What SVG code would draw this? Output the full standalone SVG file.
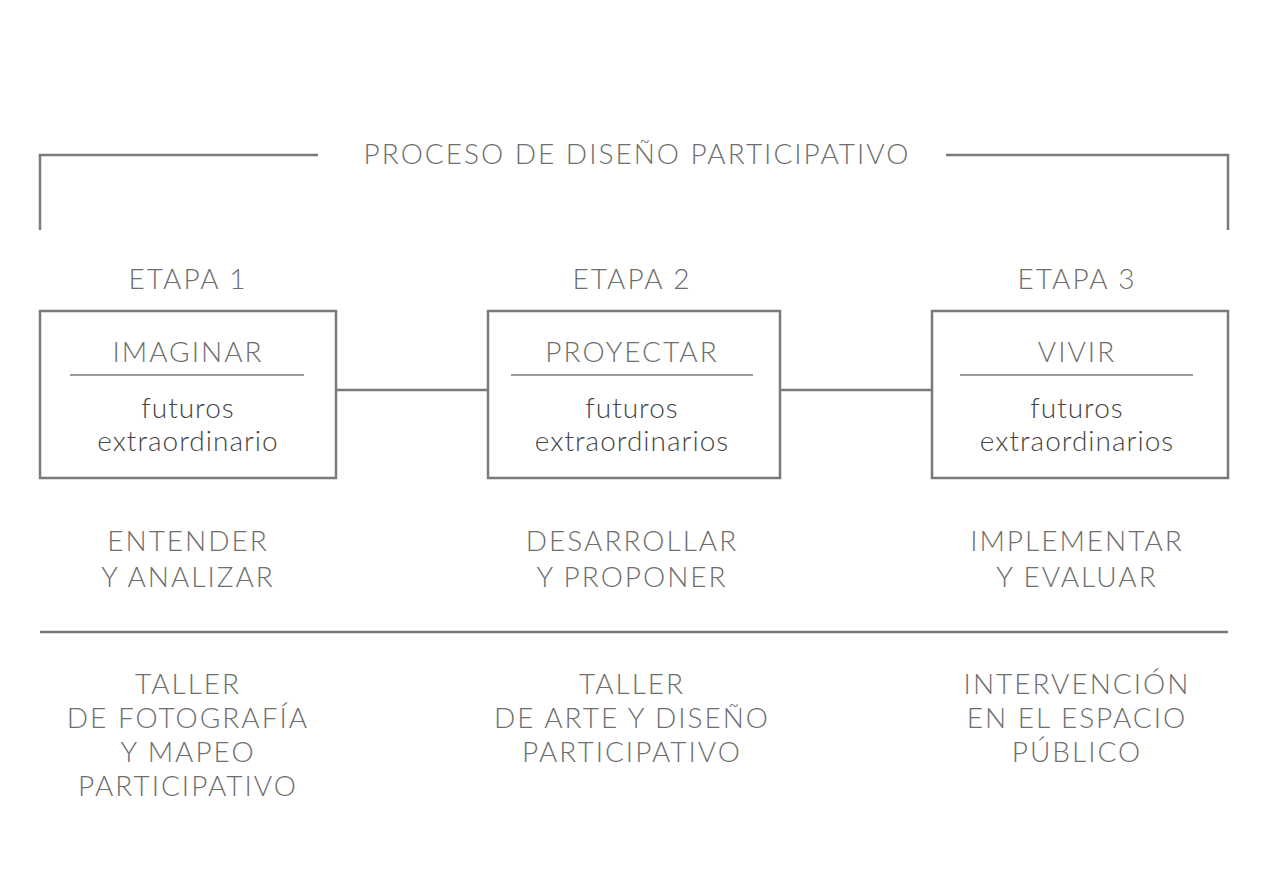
<svg xmlns="http://www.w3.org/2000/svg" width="1278" height="892" viewBox="0 0 1278 892">
<style>
text{font-family:Lato,"Open Sans","Liberation Sans",sans-serif;font-weight:300;fill:#6e6e6e;font-size:28px;text-anchor:middle;letter-spacing:2px}
.l{stroke:#7a7a7a;stroke-width:2.5;fill:none}
.t{stroke:#7a7a7a;stroke-width:1.3}
.b{fill:#454545;letter-spacing:1px}
</style>
<rect width="1278" height="892" fill="#fff"/>
<g id="header">
<path class="l" d="M40 230V155H318M946 155H1228V230"/>
<text x="637" y="164">PROCESO DE DISEÑO PARTICIPATIVO</text>
</g>
<g id="connectors">
<line class="l" x1="336" y1="390" x2="488" y2="390"/>
<line class="l" x1="780" y1="390" x2="932" y2="390"/>
<line class="l" x1="40" y1="632" x2="1228" y2="632"/>
</g>
<g id="etapa1">
<text x="188" y="289">ETAPA 1</text>
<rect class="l" x="40" y="311" width="296" height="167"/>
<text x="188" y="362">IMAGINAR</text>
<line class="t" x1="70" y1="375" x2="304" y2="375"/>
<text class="b" x="188" y="418">futuros</text>
<text class="b" x="188" y="451">extraordinario</text>
<text x="188" y="551">ENTENDER</text>
<text x="188" y="587">Y ANALIZAR</text>
<text x="188" y="694">TALLER</text>
<text x="188" y="728">DE FOTOGRAFÍA</text>
<text x="188" y="762">Y MAPEO</text>
<text x="188" y="796">PARTICIPATIVO</text>
</g>
<g id="etapa2">
<text x="632" y="289">ETAPA 2</text>
<rect class="l" x="488" y="311" width="292" height="167"/>
<text x="632" y="362">PROYECTAR</text>
<line class="t" x1="511" y1="375" x2="753" y2="375"/>
<text class="b" x="632" y="418">futuros</text>
<text class="b" x="632" y="451">extraordinarios</text>
<text x="632" y="551">DESARROLLAR</text>
<text x="632" y="587">Y PROPONER</text>
<text x="632" y="694">TALLER</text>
<text x="632" y="728">DE ARTE Y DISEÑO</text>
<text x="632" y="762">PARTICIPATIVO</text>
</g>
<g id="etapa3">
<text x="1077" y="289">ETAPA 3</text>
<rect class="l" x="932" y="311" width="296" height="167"/>
<text x="1077" y="362">VIVIR</text>
<line class="t" x1="960" y1="375" x2="1193" y2="375"/>
<text class="b" x="1077" y="418">futuros</text>
<text class="b" x="1077" y="451">extraordinarios</text>
<text x="1077" y="551">IMPLEMENTAR</text>
<text x="1077" y="587">Y EVALUAR</text>
<text x="1077" y="694">INTERVENCIÓN</text>
<text x="1077" y="728">EN EL ESPACIO</text>
<text x="1077" y="762">PÚBLICO</text>
</g>
</svg>
